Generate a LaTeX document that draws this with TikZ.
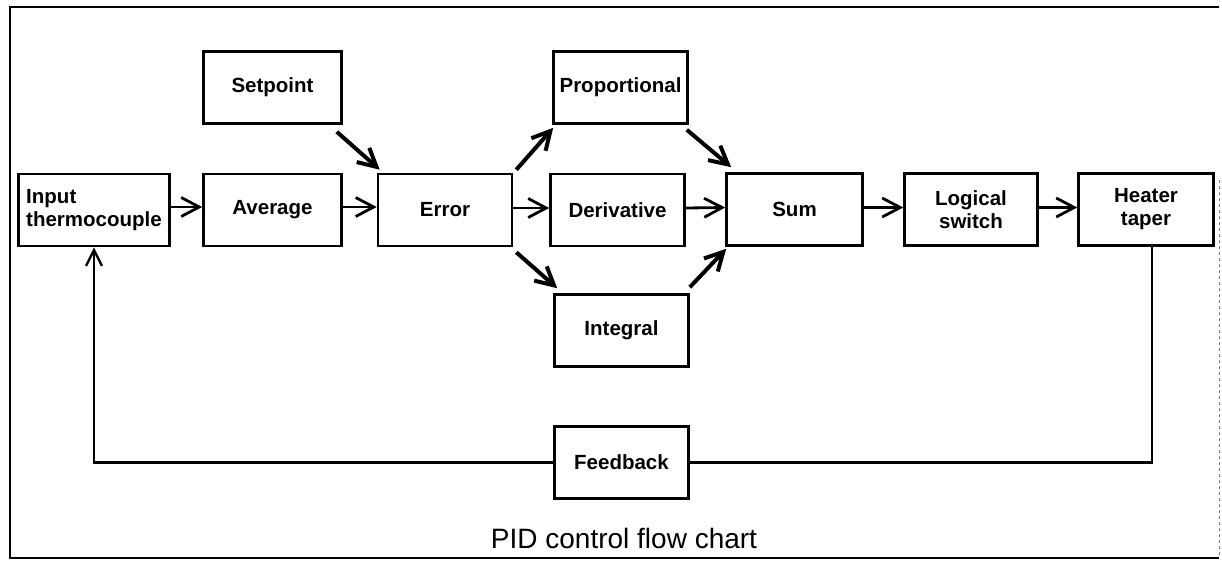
\documentclass[tikz,border=0pt]{standalone}
\usepackage{fontspec}
\setmainfont{Liberation Sans}
\usetikzlibrary{arrows.meta}
\begin{document}
\begin{tikzpicture}[x=1pt,y=-1pt,
  box/.style={draw, line width=2.6pt, inner sep=0pt, minimum height=72pt,
    minimum width=134pt, align=center,
    font=\fontsize{20.5}{23}\selectfont\bfseries},
  flow/.style={line width=2.8pt, -{Straight Barb[length=18pt,width=19pt]}},
  diag/.style={flow, line width=4pt},
  loopline/.style={line width=2.4pt},
  caption/.style={font=\fontsize{28}{30}\selectfont}]
\useasboundingbox (0,0) rectangle (1222,560);

% outer frame
\draw[line width=2pt] (1219,7) -- (10,7) -- (10,558) -- (1219,558);
\draw[gray, dashed, line width=1pt] (1219,180) -- (1219,555);

% blocks
\node[box, minimum width=151pt, align=left] (inp) at (94,210) {Input\\thermocouple};
\node[box, minimum width=138pt] (set) at (272.5,87.5) {Setpoint};
\node[box, minimum width=138pt] (avg) at (272.5,210) {Average};
\node[box] (err) at (445,210) {Error};
\node[box] (prop) at (620.5,87.5) {Proportional};
\node[box] (der) at (617.5,210) {Derivative};
\node[box] (int) at (621.5,330.5) {Integral};
\node[box, minimum width=136pt] (sum) at (794.5,209.5) {Sum};
\node[box, minimum width=133pt] (log) at (971,209.5) {Logical\\switch};
\node[box, minimum width=135pt] (heat) at (1146,209.5) {Heater\\taper};
\node[box] (fb) at (621.5,462.5) {Feedback};

% forward path
\draw[flow] ([yshift=3pt]inp.east) -- ([yshift=3pt]avg.west);
\draw[flow] ([yshift=3pt]avg.east) -- ([yshift=3pt]err.west);
\draw[flow] ([yshift=2pt]err.east) -- ([yshift=2pt]der.west);
\draw[flow] ([yshift=2pt]der.east) -- ([yshift=2pt]sum.west);
\draw[flow] ([yshift=2pt]sum.east) -- ([yshift=2pt]log.west);
\draw[flow] ([yshift=2pt]log.east) -- ([yshift=2pt]heat.west);

% branches
\draw[diag] ([shift={(-6,7)}]set.south east) -- ([shift={(3,-3)}]err.north west);
\draw[diag] ([shift={(3,-3)}]err.north east) -- ([shift={(1,3)}]prop.south west);
\draw[diag] ([shift={(-2,5)}]prop.south east) -- ([shift={(6,-5)}]sum.north west);
\draw[diag] ([shift={(3,5)}]err.south east) -- ([shift={(4,-5)}]int.north west);
\draw[diag] ([shift={(0,-6)}]int.north east) -- ([shift={(1,2)}]sum.south west);

% feedback loop
\draw[loopline] ([xshift=6pt]heat.south) |- (fb.east);
\draw[loopline, -{Straight Barb[length=16pt,width=16pt]}] (fb.west) -| (inp.south);

% title
\node[caption] (title) at (624,538) {PID control flow chart};
\end{tikzpicture}
\end{document}
